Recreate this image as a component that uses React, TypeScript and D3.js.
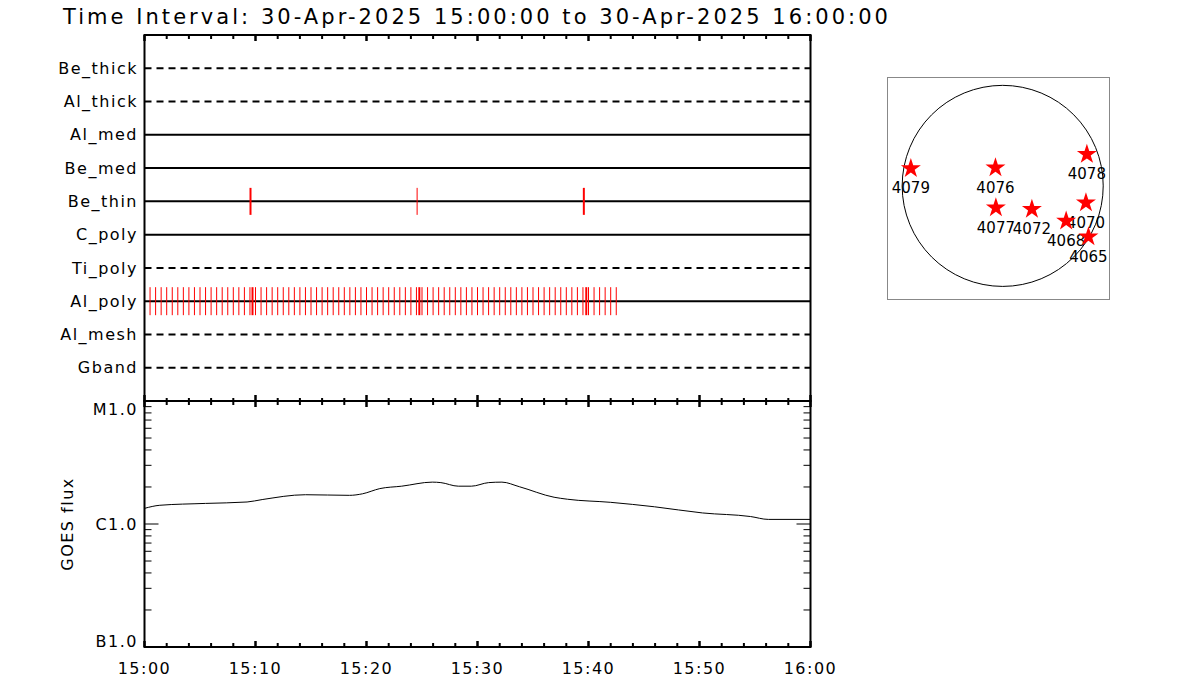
import * as d3 from "d3";

// ---------------------------------------------------------------------------
// Data
// ---------------------------------------------------------------------------

const TITLE = "Time Interval: 30-Apr-2025 15:00:00 to 30-Apr-2025 16:00:00";

const CHANNELS = [
  "Be_thick",
  "Al_thick",
  "Al_med",
  "Be_med",
  "Be_thin",
  "C_poly",
  "Ti_poly",
  "Al_poly",
  "Al_mesh",
  "Gband",
];
// dashed = no data in the interval
const CHANNEL_DASHED = [true, true, false, false, false, false, true, false, true, true];

// exposure marks, minutes after 15:00
const BE_THIN_MAJOR = [9.55, 39.58];
const BE_THIN_MINOR = [24.56];
const AL_POLY_MARKS = [
  0.5, 1.0, 1.5, 2.0, 2.5, 3.0, 3.5, 4.0, 4.5, 5.0, 5.5, 6.0, 6.5, 7.0, 7.5, 8.0, 8.5,
  9.0, 9.5, 10.0, 10.5, 11.0, 11.5, 12.0, 12.5, 13.0, 13.5, 14.0, 14.5, 15.0, 15.5,
  16.0, 16.5, 17.0, 17.5, 18.0, 18.5, 19.0, 19.5, 20.0, 20.5, 21.0, 21.5, 22.0, 22.5,
  23.0, 23.5, 24.0, 24.5, 25.0, 25.5, 26.0, 26.5, 27.0, 27.5, 28.0, 28.5, 29.0, 29.5,
  30.0, 30.5, 31.0, 31.5, 32.0, 32.5, 33.0, 33.5, 34.0, 34.5, 35.0, 35.5, 36.0, 36.5,
  37.0, 37.5, 38.0, 38.5, 39.0, 39.5, 40.0, 40.5, 41.0, 41.5, 42.0, 42.5,
];
const AL_POLY_EXTRA = [9.73, 24.76, 39.8];

// GOES 1-8 A flux, W/m^2
const GOES_TIME = [
  0, 1.38, 5.49, 9.24, 10.6, 14.5, 18.46, 19.64, 21.2, 23.17, 25.93, 26.7, 28.27,
  29.45, 31.0, 32.2, 33.77, 36.9, 38.1, 42.0, 45.95, 50.27, 54.6, 56.2, 60,
];
const GOES_FLUX = [
  1.34e-6, 1.42e-6, 1.47e-6, 1.51e-6, 1.58e-6, 1.73e-6, 1.71e-6, 1.76e-6, 1.94e-6,
  2.03e-6, 2.19e-6, 2.17e-6, 2.03e-6, 2.03e-6, 2.17e-6, 2.19e-6, 2.01e-6, 1.65e-6,
  1.59e-6, 1.5e-6, 1.38e-6, 1.23e-6, 1.15e-6, 1.09e-6, 1.09e-6,
];

const X_TICK_LABELS = ["15:00", "15:10", "15:20", "15:30", "15:40", "15:50", "16:00"];
const Y_TICK_VALUES = [1e-7, 1e-6, 1e-5];
const Y_TICK_LABELS = ["B1.0", "C1.0", "M1.0"];

// active regions, heliocentric arcsec
const AR_NUMBERS = ["4079", "4076", "4078", "4077", "4072", "4070", "4068", "4065"];
const AR_X = [-877, -69, 804, -65, 279, 795, 606, 819];
const AR_Y = [167, 173, 301, -209, -224, -161, -336, -486];
const SUN_RADIUS = 960;

// ---------------------------------------------------------------------------

const FONT = "'DejaVu Sans', sans-serif";

export default function App() {
  const W = 1200;
  const H = 700;
  const left = 144.5;
  const right = 810.5;
  const top = 35;
  const mid = 401;
  const bottom = 647;

  const x = d3.scaleLinear().domain([0, 60]).range([left, right]);
  const rowY = d3.scalePoint<string>().domain(CHANNELS).range([top, mid]).padding(1);
  const y = d3.scaleLog().domain([1e-7, 1e-5]).range([bottom, mid]);

  const minorX = x.ticks(30);
  const majorX = x.ticks(6);
  const yTicks = y.ticks();

  const goesLine = d3
    .line<number>()
    .x((_d, i) => x(GOES_TIME[i]))
    .y((d) => y(d))
    .curve(d3.curveMonotoneX);

  // solar disk panel
  const sx = d3.scaleLinear().domain([-1100, 1020]).range([887.5, 1109.5]);
  const sy = d3.scaleLinear().domain([-1085, 1035]).range([299.5, 77.5]);
  const star = d3.symbol(d3.symbolStar, 124)();
  const sunR = sx(SUN_RADIUS) - sx(0);

  const txt = { fontFamily: FONT, fill: "#000" };

  return (
    <svg
      width={W}
      height={H}
      style={{ position: "absolute", left: 0, top: 0, background: "#fff" }}
    >
      <text
        x={63}
        y={24}
        fontSize={21}
        textLength={825}
        lengthAdjust="spacing"
        {...txt}
      >
        {TITLE}
      </text>

      {/* ---- channel rows ---- */}
      {CHANNELS.map((c, i) => (
        <g key={c}>
          <line
            x1={left}
            x2={right}
            y1={rowY(c)}
            y2={rowY(c)}
            stroke="#000"
            strokeWidth={2}
            strokeDasharray={CHANNEL_DASHED[i] ? "7 5" : undefined}
          />
          <text
            x={138}
            y={rowY(c)}
            dy="0.35em"
            textAnchor="end"
            fontSize={16}
            letterSpacing={1.5}
            {...txt}
          >
            {c}
          </text>
        </g>
      ))}

      {BE_THIN_MAJOR.map((t, i) => (
        <line
          key={"bm" + i}
          x1={x(t)}
          x2={x(t)}
          y1={rowY("Be_thin")! - 13.5}
          y2={rowY("Be_thin")! + 13.5}
          stroke="#f00"
          strokeWidth={2}
        />
      ))}
      {BE_THIN_MINOR.map((t, i) => (
        <line
          key={"bn" + i}
          x1={x(t)}
          x2={x(t)}
          y1={rowY("Be_thin")! - 13.5}
          y2={rowY("Be_thin")! + 13.5}
          stroke="#f00"
          strokeWidth={1}
        />
      ))}
      {AL_POLY_MARKS.map((t, i) => (
        <line
          key={"ap" + i}
          x1={x(t)}
          x2={x(t)}
          y1={rowY("Al_poly")! - 14}
          y2={rowY("Al_poly")! + 14}
          stroke="#f00"
          strokeWidth={1}
        />
      ))}
      {AL_POLY_EXTRA.map((t, i) => (
        <line
          key={"ae" + i}
          x1={x(t)}
          x2={x(t)}
          y1={rowY("Al_poly")! - 14}
          y2={rowY("Al_poly")! + 14}
          stroke="#f00"
          strokeWidth={2}
        />
      ))}

      {/* ---- frames ---- */}
      <rect x={left} y={top} width={right - left} height={mid - top} fill="none" stroke="#000" strokeWidth={2} />
      <rect x={left} y={mid} width={right - left} height={bottom - mid} fill="none" stroke="#000" strokeWidth={2} />

      {/* time ticks */}
      {minorX.map((t) => {
        const major = majorX.includes(t);
        const px = x(t);
        return (
          <g key={"xt" + t} stroke="#000" strokeWidth={major ? 2.5 : 2}>
            <line x1={px} x2={px} y1={top} y2={top + (major ? 6 : 4)} />
            <line x1={px} x2={px} y1={mid - (major ? 6 : 3)} y2={mid + (major ? 6 : 4)} />
            <line x1={px} x2={px} y1={bottom} y2={bottom - (major ? 6 : 4)} />
          </g>
        );
      })}

      {/* flux ticks */}
      {yTicks.map((v, i) => {
        const py = y(v);
        const major = Y_TICK_VALUES.includes(v);
        const len = major ? 14 : 7;
        return (
          <g key={"yt" + i} stroke="#000" strokeWidth={1}>
            <line x1={left} x2={left + len} y1={py} y2={py} />
            <line x1={right} x2={right - len} y1={py} y2={py} />
          </g>
        );
      })}

      {X_TICK_LABELS.map((l, i) => (
        <text
          key={l}
          x={x(majorX[i])}
          y={674}
          textAnchor="middle"
          fontSize={16}
          letterSpacing={1.5}
          {...txt}
        >
          {l}
        </text>
      ))}
      {Y_TICK_LABELS.map((l, i) => {
        const py = Math.min(Math.max(y(Y_TICK_VALUES[i]), mid + 8), bottom - 6);
        return (
          <text
            key={l}
            x={138}
            y={py}
            dy="0.35em"
            textAnchor="end"
            fontSize={16}
            letterSpacing={1.5}
            {...txt}
          >
            {l}
          </text>
        );
      })}
      <text
        transform={`translate(73, ${(mid + bottom) / 2}) rotate(-90)`}
        textAnchor="middle"
        fontSize={16}
        letterSpacing={1.5}
        {...txt}
      >
        GOES flux
      </text>

      <path d={goesLine(GOES_FLUX) ?? ""} fill="none" stroke="#000" strokeWidth={1} />

      {/* ---- solar disk ---- */}
      <rect
        x={sx(-1100)}
        y={sy(1035)}
        width={sx(1020) - sx(-1100)}
        height={sy(-1085) - sy(1035)}
        fill="none"
        stroke="#888"
        strokeWidth={1}
      />
      <circle cx={sx(0)} cy={sy(0)} r={sunR} fill="none" stroke="#000" strokeWidth={1} />
      {AR_NUMBERS.map((n, i) => (
        <g key={n} transform={`translate(${sx(AR_X[i])},${sy(AR_Y[i])})`}>
          <path d={star ?? ""} fill="#f00" />
          <text y={25} textAnchor="middle" fontSize={15} {...txt}>
            {n}
          </text>
        </g>
      ))}
    </svg>
  );
}
